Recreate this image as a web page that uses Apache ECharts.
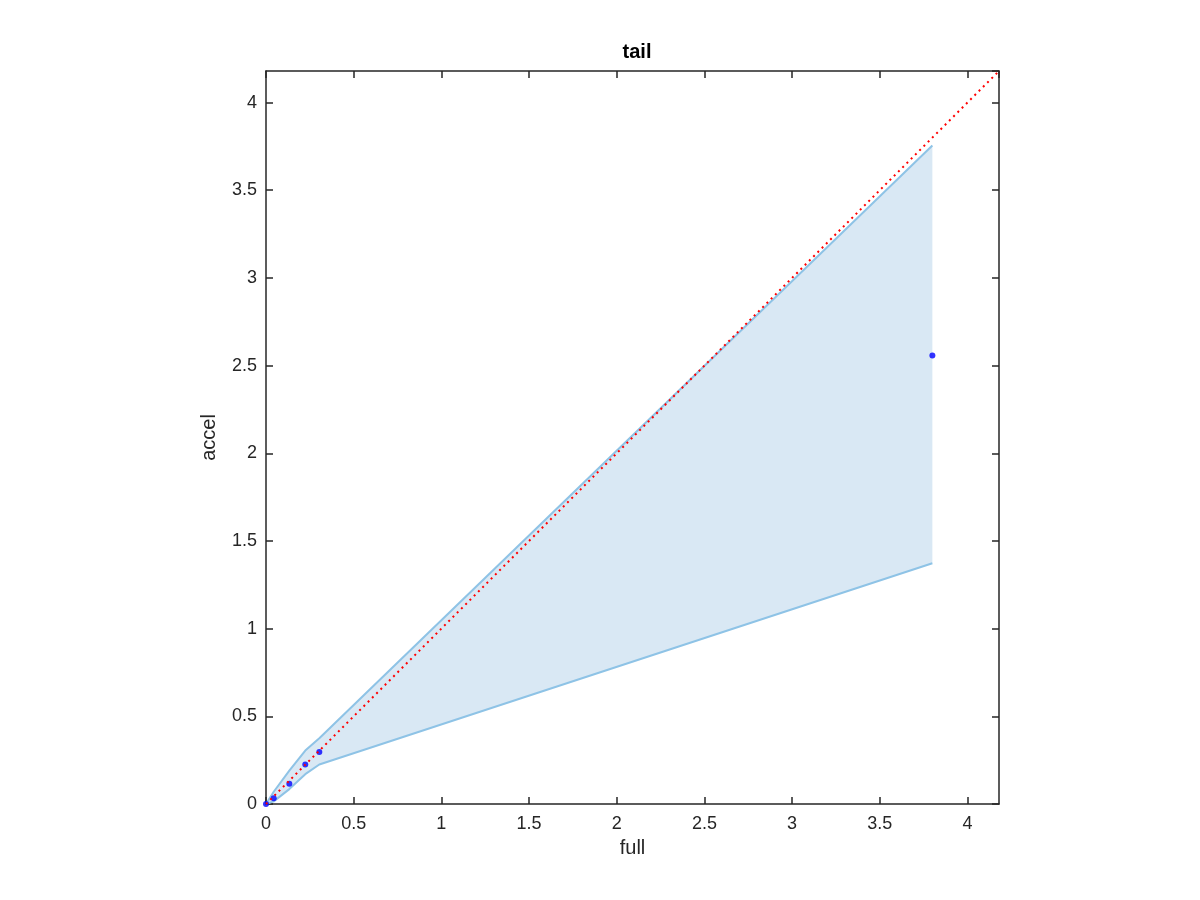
<!DOCTYPE html>
<html>
<head>
<meta charset="utf-8">
<script src="https://cdn.jsdelivr.net/npm/echarts@6/dist/echarts.min.js"></script>
<style>html,body{margin:0;padding:0;background:#fff;}#c{width:1200px;height:900px;}</style>
</head>
<body>
<div id="c"></div>
<script>
// Data
var bandX = [0, 0.044, 0.133, 0.224, 0.304, 3.80];
var bandUpper = [0, 0.07, 0.19, 0.305, 0.375, 3.755];
var bandLower = [0, 0.015, 0.085, 0.17, 0.225, 1.373];
var pointsX = [0, 0.044, 0.133, 0.224, 0.304, 3.80];
var pointsY = [0, 0.033, 0.116, 0.225, 0.296, 2.558];
var refLine = [[0, 0], [4.18, 4.18]];
var axisMax = 4.18;
var tickStep = 0.5;

var upperData = bandX.map(function (x, i) { return [x, bandUpper[i]]; });
var lowerData = bandX.map(function (x, i) { return [x, bandLower[i]]; });
var pointData = pointsX.map(function (x, i) { return [x, pointsY[i]]; });

var FONT = '"Liberation Sans", Arial, Helvetica, sans-serif';
var AX = '#262626';

function fmt(v) {
  var r = Math.round(v / tickStep) * tickStep;
  if (Math.abs(r - v) > 1e-6) return '';
  return String(Math.round(v * 10) / 10);
}

var chart = echarts.init(document.getElementById('c'), null, {renderer: 'canvas'});
var baseAxis = {
  type: 'value', min: 0, max: axisMax, interval: tickStep,
  splitLine: {show: false},
  axisLine: {show: true, onZero: false, lineStyle: {color: AX, width: 1.5}},
  axisTick: {show: true, inside: true, length: 7, lineStyle: {color: AX, width: 1.5}},
};
var option = {
  backgroundColor: '#ffffff',
  animation: false,
  title: {
    text: 'tail', left: 632, top: 37, textAlign: 'center',
    textStyle: {fontFamily: FONT, fontSize: 20, fontWeight: 'bold', color: '#000'}
  },
  grid: {left: 266, right: 201, top: 71, bottom: 96, containLabel: false},
  xAxis: [
    Object.assign({}, baseAxis, {
      position: 'bottom', name: 'full', nameLocation: 'middle', nameGap: 34,
      nameTextStyle: {fontFamily: FONT, fontSize: 20, color: AX},
      axisLabel: {show: true, formatter: fmt, margin: 11, showMaxLabel: false,
        fontFamily: FONT, fontSize: 18, color: AX}
    }),
    Object.assign({}, baseAxis, {
      position: 'top', axisLabel: {show: false}
    })
  ],
  yAxis: [
    Object.assign({}, baseAxis, {
      position: 'left', name: 'accel', nameLocation: 'middle', nameGap: 47,
      nameTextStyle: {fontFamily: FONT, fontSize: 20, color: AX},
      axisLabel: {show: true, formatter: fmt, margin: 9, showMaxLabel: false,
        fontFamily: FONT, fontSize: 18, color: AX}
    }),
    Object.assign({}, baseAxis, {
      position: 'right', axisLabel: {show: false}
    })
  ],
  series: [
    {
      type: 'custom', xAxisIndex: 0, yAxisIndex: 0, silent: true,
      data: [0],
      renderItem: function (params, api) {
        var pts = [];
        for (var i = 0; i < bandX.length; i++) pts.push(api.coord([bandX[i], bandUpper[i]]));
        for (var j = bandX.length - 1; j >= 0; j--) pts.push(api.coord([bandX[j], bandLower[j]]));
        return {type: 'polygon', shape: {points: pts}, style: {fill: '#d9e8f4', stroke: null}};
      },
      z: 1
    },
    {
      type: 'line', data: upperData, symbol: 'none', silent: true,
      lineStyle: {color: '#8ec3e6', width: 2}, z: 2
    },
    {
      type: 'line', data: lowerData, symbol: 'none', silent: true,
      lineStyle: {color: '#8ec3e6', width: 2}, z: 2
    },
    {
      type: 'scatter', data: pointData, symbol: 'circle', symbolSize: 6,
      itemStyle: {color: '#0000ff'}, z: 3
    },
    {
      type: 'line', data: refLine, symbol: 'none', silent: true,
      lineStyle: {color: '#ff0000', width: 2, type: [2, 4]}, z: 4
    }
  ]
};
chart.setOption(option);
</script>
</body>
</html>
